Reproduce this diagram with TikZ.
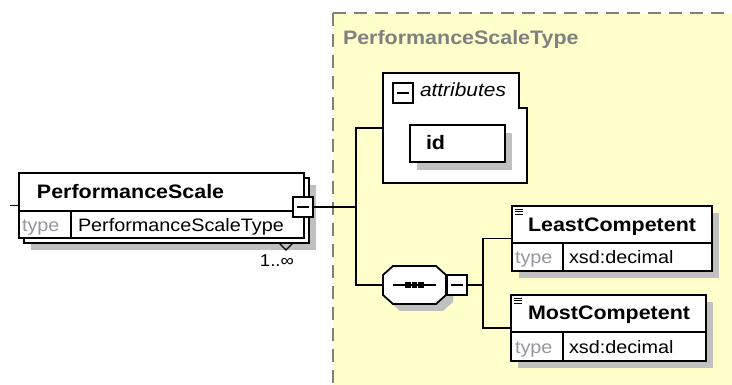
\documentclass[tikz,border=0pt]{standalone}
\usepackage{fontspec}
\setmainfont{Liberation Sans}[FakeStretch=1.1]
\usetikzlibrary{positioning}

\definecolor{paleyellow}{RGB}{255,255,204}
\definecolor{shadowgray}{RGB}{192,192,192}
\definecolor{typegray}{RGB}{150,150,160}
\definecolor{titlegray}{RGB}{128,128,128}

% collapse button: name, position
\newcommand\collapsebox[2]{%
  \node[minusbox] (#1) at (#2) {};
  \draw[line width=2.6pt] (#1.south west) -- (#1.south east) -- (#1.north east);
  \draw ([xshift=4pt]#1.west) -- ([xshift=-4pt]#1.east);}
% octagon of the sequence compositor
\newcommand\octagonpath[2]{%
  \path[#1] ([xshift=10pt]#2.north west) -- ([xshift=-10pt]#2.north east)
    -- ([yshift=-9pt]#2.north east) -- ([yshift=9pt]#2.south east)
    -- ([xshift=-10pt]#2.south east) -- ([xshift=10pt]#2.south west)
    -- ([yshift=9pt]#2.south west) -- ([yshift=-9pt]#2.north west) -- cycle;}
% little icon of a simple-typed element
\newcommand\elemicon[1]{%
  \foreach \k in {0,1,2}
    \draw[line width=1pt] ([xshift=2.5pt,yshift={-3.5pt-2.5pt*\k}]#1.north west) -- ++(8pt,0);}

\begin{document}
\begin{tikzpicture}[x=1pt, y=-1pt, line width=1.8pt]
\tikzstyle{every node}=[inner sep=0pt, outer sep=0pt];
\tikzstyle{elem}=[draw, fill=white, rectangle];
\tikzstyle{shadowbox}=[fill=shadowgray, draw=none, rectangle];
\tikzstyle{minusbox}=[draw, fill=white, minimum size=20pt, line width=1.6pt];
\tikzstyle{elemname}=[font=\fontsize{19.5}{22}\selectfont\bfseries, anchor=base west];
\tikzstyle{typelbl}=[font=\fontsize{18}{22}\selectfont, text=typegray, anchor=base west];
\tikzstyle{typeval}=[font=\fontsize{18}{22}\selectfont, anchor=base west];

\useasboundingbox (0,0) rectangle (732,385);

% complex type area
\fill[paleyellow] (333,13) rectangle (732,385);
\draw[titlegray, line width=1.4pt, dash pattern=on 13pt off 8pt] (333,13) -- (333,385);
\draw[titlegray, line width=1.4pt, dash pattern=on 13pt off 8pt] (333,13) -- (732,13);
\node[elemname, text=titlegray] (ctTitle) at (343,45) {PerformanceScaleType};

% PerformanceScale (1..unbounded, so stacked)
\node[shadowbox, minimum width=285pt, minimum height=65pt] (psShadow) at (173.5,217.5) {};
\node[elem, minimum width=285pt, minimum height=65pt] (psBack) at (166.5,210.5) {};
\node[elem, minimum width=285pt, minimum height=65pt] (ps) at (161.5,205.5) {};
\draw (19,211) -- (304,211);
\draw (71,211) -- (71,238);
\node[elemname] (psName) at (37,199) {PerformanceScale};
\node[typelbl] (psType) at (22,231.5) {type};
\node[typeval] (psTypeVal) at (78,231.5) {PerformanceScaleType};
\collapsebox{psMinus}{303,207}
\draw[line width=1.1pt] (279,243) -- (286,250) -- (293,243);
\node[font=\fontsize{17}{20}\selectfont, anchor=base east] (psCard) at (294,267) {1..∞};
\coordinate (inStub) at (10,205.5);
\draw (inStub) -- (ps.west);

% attributes
\node[minimum width=144pt, minimum height=110pt] (attr) at (455,128) {};
\draw[fill=white] (attr.north west) -- ([xshift=-8pt]attr.north east)
  -- ([xshift=-8pt,yshift=-35pt]attr.north east) -- ([yshift=-35pt]attr.north east)
  -- (attr.south east) -- (attr.south west) -- cycle;
\collapsebox{attrMinus}{403,93}
\node[font=\fontsize{19}{22}\selectfont\itshape, anchor=base west] (attrLabel) at (420,97) {attributes};
\node[shadowbox, minimum width=95pt, minimum height=37pt] (idShadow) at (464.5,151.5) {};
\node[elem, minimum width=95pt, minimum height=37pt] (id) at (457.5,143.5) {};
\node[elemname] (idName) at (426,150) {id};

% sequence
\node[minimum width=63pt, minimum height=38pt] (seqShadow) at (421.5,292) {};
\node[minimum width=63pt, minimum height=38pt] (seq) at (414.5,285) {};
\octagonpath{fill=shadowgray}{seqShadow}
\octagonpath{draw, fill=white}{seq}
\draw ([xshift=10pt]seq.west) -- ([xshift=-10pt]seq.east);
\foreach \dx in {-6.5,0,6.5}
  \fill ([xshift=\dx pt]seq.center) +(-2.8,-2.8) rectangle +(2.8,2.8);
\collapsebox{seqMinus}{457,285}

% LeastCompetent
\node[shadowbox, minimum width=200pt, minimum height=65pt] (leastShadow) at (619,245.5) {};
\node[elem, minimum width=200pt, minimum height=65pt] (least) at (612,238.5) {};
\draw (512,243) -- (712,243);
\draw (563,243) -- (563,271);
\elemicon{least}
\node[elemname] (leastName) at (528,232) {LeastCompetent};
\node[typelbl] (leastType) at (515,264) {type};
\node[typeval] (leastTypeVal) at (569,264) {xsd:decimal};

% MostCompetent
\node[shadowbox, minimum width=195pt, minimum height=66pt] (mostShadow) at (615.5,335) {};
\node[elem, minimum width=195pt, minimum height=66pt] (most) at (608.5,328) {};
\draw (511,332) -- (706,332);
\draw (563,332) -- (563,361);
\elemicon{most}
\node[elemname] (mostName) at (528,319.5) {MostCompetent};
\node[typelbl] (mostType) at (515,353.5) {type};
\node[typeval] (mostTypeVal) at (569,353.5) {xsd:decimal};

% connectors
\coordinate (fork) at (356,207);
\coordinate (join) at (483,285);
\draw (psMinus.east) -- (fork);
\draw (attr.west) -| (fork) |- (seq.west);
\draw (seqMinus.east) -- (join);
\draw (least.west) -| (join) |- (most.west);
\end{tikzpicture}
\end{document}
